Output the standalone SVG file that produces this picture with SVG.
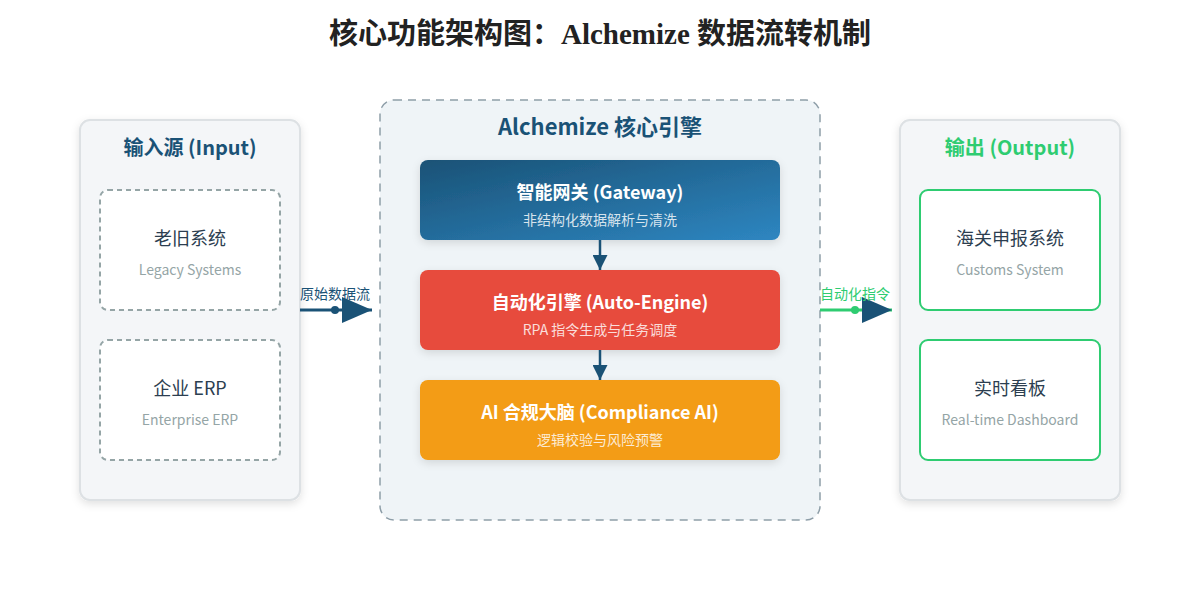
<svg xmlns="http://www.w3.org/2000/svg" width="1200" height="600" viewBox="0 0 1200 600">
<defs>
<linearGradient id="gBlue" x1="0" y1="0" x2="1" y2="1">
<stop offset="0" stop-color="#1a5276"/>
<stop offset="1" stop-color="#2e86c1"/>
</linearGradient>
<filter id="sh" x="-10%" y="-10%" width="120%" height="130%">
<feDropShadow dx="0" dy="3" stdDeviation="4" flood-color="#000" flood-opacity="0.12"/>
</filter>
<marker id="arrSm" viewBox="0 0 10 10" refX="10" refY="5" markerWidth="15" markerHeight="15" markerUnits="userSpaceOnUse" orient="auto">
<path d="M0,0 L10,5 L0,10 Z" fill="#1a5276"/>
</marker>
<marker id="arrLg" viewBox="0 0 10 10" refX="10" refY="5" markerWidth="30" markerHeight="26" markerUnits="userSpaceOnUse" orient="auto" preserveAspectRatio="none">
<path d="M0,0 L10,5 L0,10 Z" fill="#1a5276"/>
</marker>
</defs>
<style>
.sans{font-family:"Noto Sans CJK SC","Noto Sans",sans-serif;}
.panel{fill:#f4f6f8;stroke:#dde1e4;stroke-width:2;}
.ptitle{font-size:20px;font-weight:bold;text-anchor:middle;}
.inbox{fill:#ffffff;stroke:#95a5a6;stroke-width:2;stroke-dasharray:5 4;}
.outbox{fill:#ffffff;stroke:#2ecc71;stroke-width:2;}
.main{font-size:18px;fill:#2c3e50;text-anchor:middle;}
.sub{font-size:14px;fill:#95a5a6;text-anchor:middle;}
.etitle{font-size:18px;font-weight:bold;fill:#ffffff;text-anchor:middle;}
.esub{font-size:14px;fill:#ffffff;fill-opacity:0.82;text-anchor:middle;}
</style>
<rect width="1200" height="600" fill="#ffffff"/>
<text x="600" y="44" font-family="'Liberation Serif','Noto Sans CJK SC',serif" font-size="29" font-weight="bold" fill="#222" text-anchor="middle">核心功能架构图：Alchemize 数据流转机制</text>

<g id="input">
<rect class="panel" x="80" y="120" width="220" height="380" rx="10" filter="url(#sh)"/>
<text class="sans ptitle" x="190" y="155" fill="#1a5276">输入源 (Input)</text>
<g id="legacy">
<rect class="inbox" x="100" y="190" width="180" height="120" rx="8"/>
<text class="sans main" x="190" y="245">老旧系统</text>
<text class="sans sub" x="190" y="275">Legacy Systems</text>
</g>
<g id="erp">
<rect class="inbox" x="100" y="340" width="180" height="120" rx="8"/>
<text class="sans main" x="190" y="395">企业 ERP</text>
<text class="sans sub" x="190" y="425">Enterprise ERP</text>
</g>
</g>

<g id="core">
<rect x="380" y="100" width="440" height="420" rx="14" fill="#eff4f7" stroke="#8e9ea8" stroke-width="1.5" stroke-dasharray="8 6"/>
<text class="sans" x="600" y="135" font-size="22" font-weight="bold" fill="#1a5276" text-anchor="middle">Alchemize 核心引擎</text>
<g id="gateway">
<rect x="420" y="160" width="360" height="80" rx="8" fill="url(#gBlue)" filter="url(#sh)"/>
<text class="sans etitle" x="600" y="199">智能网关 (Gateway)</text>
<text class="sans esub" x="600" y="225">非结构化数据解析与清洗</text>
</g>
<g id="autoengine">
<rect x="420" y="270" width="360" height="80" rx="8" fill="#e74c3c" filter="url(#sh)"/>
<text class="sans etitle" x="600" y="309">自动化引擎 (Auto-Engine)</text>
<text class="sans esub" x="600" y="335">RPA 指令生成与任务调度</text>
</g>
<g id="compliance">
<rect x="420" y="380" width="360" height="80" rx="8" fill="#f39c12" filter="url(#sh)"/>
<text class="sans etitle" x="600" y="419">AI 合规大脑 (Compliance AI)</text>
<text class="sans esub" x="600" y="445">逻辑校验与风险预警</text>
</g>
</g>

<g id="output">
<rect class="panel" x="900" y="120" width="220" height="380" rx="10" filter="url(#sh)"/>
<text class="sans ptitle" x="1010" y="155" fill="#2ecc71">输出 (Output)</text>
<g id="customs">
<rect class="outbox" x="920" y="190" width="180" height="120" rx="8"/>
<text class="sans main" x="1010" y="245">海关申报系统</text>
<text class="sans sub" x="1010" y="275">Customs System</text>
</g>
<g id="dashboard">
<rect class="outbox" x="920" y="340" width="180" height="120" rx="8"/>
<text class="sans main" x="1010" y="395">实时看板</text>
<text class="sans sub" x="1010" y="425">Real-time Dashboard</text>
</g>
</g>

<g id="connectors">
<line x1="600" y1="240" x2="600" y2="270" stroke="#1a5276" stroke-width="2.5" marker-end="url(#arrSm)"/>
<line x1="600" y1="350" x2="600" y2="380" stroke="#1a5276" stroke-width="2.5" marker-end="url(#arrSm)"/>
<line x1="300" y1="310" x2="372" y2="310" stroke="#1a5276" stroke-width="3" marker-end="url(#arrLg)"/>
<circle cx="335" cy="310" r="4" fill="#1a5276"/>
<text class="sans" x="335" y="299" font-size="14" fill="#1a5276" text-anchor="middle">原始数据流</text>
<line x1="820" y1="310" x2="892" y2="310" stroke="#2ecc71" stroke-width="3" marker-end="url(#arrLg)"/>
<circle cx="855" cy="310" r="4" fill="#2ecc71"/>
<text class="sans" x="855" y="299" font-size="14" fill="#2ecc71" text-anchor="middle">自动化指令</text>
</g>
</svg>
